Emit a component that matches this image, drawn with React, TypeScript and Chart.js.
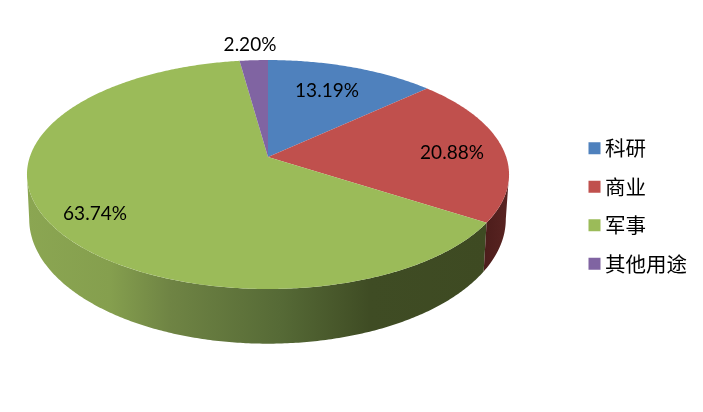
import React, { useEffect, useRef } from "react";
import { Chart, registerables } from "chart.js";

Chart.register(...registerables);

const categories = ["科研", "商业", "军事", "其他用途"];
const shares = [13.19, 20.88, 63.74, 2.2];
const topColors = ["#4F81BD", "#C0504D", "#9BBB59", "#8064A2"];

// centre of each percentage label, in canvas pixels
const labelX = [327, 452, 95, 250];
const labelY = [91, 153, 214, 45];

// projection of the unit circle onto the page (perspective view of the disc)
const TOP = { x: 268, y: 157, a: 238.2, b: 111.8, k: 0.153 };
const BOTTOM = { x: 267.5, y: 200, a: 235.5, b: 121.7, k: 0.153 };
// the rim is visible between the two points where the outline turns back
const FRONT_FROM = Math.asin(TOP.k);
const FRONT_TO = Math.PI - FRONT_FROM;

type Plane = typeof TOP;
const project = (p: Plane, angle: number): [number, number] => {
  const u = Math.cos(angle);
  const v = Math.sin(angle);
  const w = 1 - p.k * v;
  return [p.x + (p.a * u) / w, p.y + (p.b * v) / w];
};

const trace = (ctx: CanvasRenderingContext2D, p: Plane, from: number, to: number, first: boolean) => {
  const steps = Math.max(2, Math.ceil(Math.abs(to - from) / 0.01));
  for (let i = 0; i <= steps; i++) {
    const [x, y] = project(p, from + ((to - from) * i) / steps);
    if (first && i === 0) ctx.moveTo(x, y);
    else ctx.lineTo(x, y);
  }
};

const wallFill = (ctx: CanvasRenderingContext2D, index: number) => {
  if (index === 1) {
    const g = ctx.createLinearGradient(484, 0, 510, 0);
    g.addColorStop(0, "#4C1D1B");
    g.addColorStop(1, "#5A2422");
    return g;
  }
  const g = ctx.createLinearGradient(27, 0, 487, 0);
  g.addColorStop(0, "#8BA652");
  g.addColorStop(0.18, "#859F4E");
  g.addColorStop(0.31, "#6F8444");
  g.addColorStop(0.55, "#566A36");
  g.addColorStop(0.745, "#3F4C24");
  g.addColorStop(1, "#3E4A22");
  return g;
};

const perspectivePie = {
  id: "perspectivePie",
  beforeDatasetsDraw(chart: Chart) {
    const ctx = chart.ctx;
    const arcs = chart.getDatasetMeta(0).data as any[];
    ctx.save();
    [2, 1].forEach((i) => {
      const from = Math.max(arcs[i].startAngle, FRONT_FROM);
      const to = Math.min(arcs[i].endAngle, FRONT_TO);
      if (to <= from) return;
      ctx.beginPath();
      trace(ctx, TOP, from, to, true);
      trace(ctx, BOTTOM, to, from, false);
      ctx.closePath();
      ctx.fillStyle = wallFill(ctx, i);
      ctx.fill();
    });
    arcs.forEach((arc, i) => {
      ctx.beginPath();
      ctx.moveTo(TOP.x, TOP.y);
      trace(ctx, TOP, arc.startAngle, arc.endAngle, false);
      ctx.closePath();
      ctx.fillStyle = topColors[i];
      ctx.fill();
    });
    ctx.restore();
    return false;
  },
  afterDraw(chart: Chart) {
    const ctx = chart.ctx;
    ctx.save();
    ctx.font = "19px Lato";
    ctx.fillStyle = "#000";
    ctx.textAlign = "center";
    ctx.textBaseline = "middle";
    shares.forEach((s, i) => ctx.fillText(s.toFixed(2) + "%", labelX[i], labelY[i]));
    ctx.restore();
  },
};

export default function App() {
  const ref = useRef<HTMLCanvasElement>(null);
  useEffect(() => {
    document.body.style.margin = "0";
    document.body.style.background = "#fff";
    const chart = new Chart(ref.current!, {
      type: "pie",
      data: {
        labels: categories,
        datasets: [{ data: shares, backgroundColor: topColors, borderWidth: 0 }],
      },
      options: {
        responsive: false,
        animation: false,
        layout: { padding: { right: 6 } },
        plugins: {
          tooltip: { enabled: false },
          legend: {
            position: "right",
            align: "center",
            labels: {
              usePointStyle: true,
              pointStyle: "rect",
              boxWidth: 0.5,
              boxHeight: 12,
              padding: 18,
              color: "#000",
              font: { family: '"Noto Sans CJK SC"', size: 20.5, lineHeight: 1 },
            },
          },
        },
      },
      plugins: [perspectivePie],
    } as any);
    return () => chart.destroy();
  }, []);
  return (
    <div style={{ width: 703, height: 412 }}>
      <canvas ref={ref} width={703} height={412} style={{ display: "block" }} />
    </div>
  );
}
